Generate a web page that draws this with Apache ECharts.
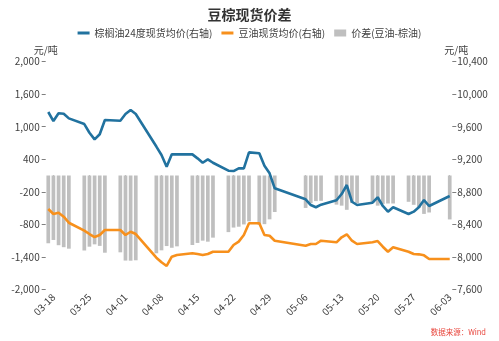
<!DOCTYPE html>
<html><head><meta charset="utf-8">
<script src="https://cdn.jsdelivr.net/npm/echarts@6/dist/echarts.min.js"></script>
<style>html,body{margin:0;padding:0;background:#fff}#c{width:499px;height:341px}</style>
</head><body><div id="c"></div>
<script>
// Calendar range of the category axis (2025)
const startDay = '2025-03-17';
const endDay = '2025-06-03';
// Trading days with data
const dates = ['03-17','03-18','03-19','03-20','03-21',
  '03-24','03-25','03-26','03-27','03-28',
  '03-31','04-01','04-02','04-03',
  '04-07','04-08','04-09','04-10','04-11',
  '04-14','04-15','04-16','04-17','04-18',
  '04-21','04-22','04-23','04-24','04-25',
  '04-27','04-28','04-29','04-30',
  '05-06','05-07','05-08','05-09',
  '05-12','05-13','05-14','05-15','05-16',
  '05-19','05-20','05-21','05-22','05-23',
  '05-26','05-27','05-28','05-29','05-30',
  '06-03'];
const palmOil = [9781,9670,9765,9760,9703,
  9633,9526,9445,9507,9682,
  9674,9756,9805,9756,
  9356,9252,9108,9260,9260,
  9260,9211,9157,9199,9157,
  9059,9055,9088,9088,9285,
  9273,9120,9027,8842,
  8707,8637,8609,8641,
  8695,8772,8883,8677,8637,
  8665,8732,8625,8555,8609,
  8526,8555,8609,8698,8625,
  8748];
const soyOil = [8588,8526,8542,8493,8419,
  8321,8280,8243,8268,8329,
  8329,8268,8308,8280,
  7989,7932,7887,8001,8022,
  8043,8034,8022,8034,8062,
  8062,8145,8186,8268,8412,
  8412,8268,8259,8198,
  8136,8157,8157,8198,
  8178,8240,8277,8198,8157,
  8178,8194,8124,8062,8117,
  8062,8034,8030,8018,7973,
  7973];
const spread = [-1191,-1133,-1225,-1260,-1286,
  -1318,-1251,-1210,-1237,-1357,
  -1350,-1495,-1497,-1490,
  -1367,-1315,-1240,-1270,-1245,
  -1221,-1185,-1145,-1163,-1092,
  -995,-915,-900,-860,-805,
  -865,-855,-770,-642,
  -570,-485,-450,-445,
  -512,-530,-603,-485,-485,
  -485,-530,-500,-492,-492,
  -462,-515,-570,-675,-650,
  -772];
const xTickLabels = ['03-18','03-25','04-01','04-08','04-15','04-22','04-29','05-06','05-13','05-20','05-27','06-03'];
const leftTickLabels = ['-2,000','-1,400','-800','-200','400','1,000','1,600','2,000'];
const rightTickLabels = ['7,600','8,000','8,400','8,800','9,200','9,600','10,000','10,400'];

// build calendar-day categories
const days = [];
for (let t = new Date(startDay + 'T00:00:00Z'); t <= new Date(endDay + 'T00:00:00Z'); t = new Date(t.getTime() + 86400000)) {
  const m = String(t.getUTCMonth() + 1).padStart(2, '0');
  const d = String(t.getUTCDate()).padStart(2, '0');
  days.push(m + '-' + d);
}
function onDays(values) {
  const map = {};
  dates.forEach((d, i) => { map[d] = values[i]; });
  return days.map(d => (d in map ? map[d] : null));
}

const FONT = "'Noto Sans CJK SC', 'Noto Sans', sans-serif";
const leftStep = 4000 / 7;
const lineIcon = 'path://M0,0H12V3H0Z';
const chart = echarts.init(document.getElementById('c'), null, {renderer: 'canvas'});
chart.setOption({
  animation: false,
  textStyle: {fontFamily: FONT},
  title: {
    text: '豆棕现货价差', left: 'center', top: 3,
    textStyle: {fontSize: 14, fontWeight: 'bold', color: '#333', fontFamily: FONT}
  },
  legend: {
    top: 23, left: 'center', itemWidth: 12, itemHeight: 7, itemGap: 9,
    symbolKeepAspect: true,
    textStyle: {fontSize: 10, color: '#404040', fontFamily: FONT},
    data: [
      {name: '棕榈油24度现货均价(右轴)', icon: lineIcon},
      {name: '豆油现货均价(右轴)', icon: lineIcon},
      {name: '价差(豆油-棕油)', icon: 'rect'}
    ]
  },
  grid: {left: 45.7, right: 46.7, top: 61.7, bottom: 51.7, containLabel: false, outerBoundsMode: 'none'},
  xAxis: {
    type: 'category', data: days, boundaryGap: true,
    axisLine: {show: false},
    axisTick: {show: true, alignWithLabel: true, length: 4, lineStyle: {color: '#7f7f7f'},
      interval: (i, v) => xTickLabels.includes(v)},
    axisLabel: {rotate: 45, fontSize: 10, color: '#404040', margin: 6, fontFamily: FONT,
      interval: (i, v) => xTickLabels.includes(v)},
    splitLine: {show: false}
  },
  yAxis: [{
    type: 'value', min: -2000, max: 2000, interval: leftStep,
    name: '元/吨', nameLocation: 'end', nameGap: 6,
    nameTextStyle: {fontSize: 10, color: '#404040', fontFamily: FONT},
    axisLine: {show: false},
    axisTick: {show: true, length: 4, lineStyle: {color: '#7f7f7f'}},
    axisLabel: {fontSize: 10, color: '#404040', margin: 6, fontFamily: FONT,
      formatter: v => leftTickLabels[Math.round((v + 2000) / leftStep)] || ''},
    splitLine: {show: false}
  }, {
    type: 'value', min: 7600, max: 10400, interval: 400, position: 'right',
    name: '元/吨', nameLocation: 'end', nameGap: 6,
    nameTextStyle: {fontSize: 10, color: '#404040', fontFamily: FONT, padding: [0, 0, 0, 8]},
    axisLine: {show: false},
    axisTick: {show: true, length: 4, lineStyle: {color: '#7f7f7f'}},
    axisLabel: {fontSize: 10, color: '#404040', margin: 5, fontFamily: FONT,
      formatter: v => rightTickLabels[Math.round((v - 7600) / 400)] || ''},
    splitLine: {show: false}
  }],
  series: [{
    name: '棕榈油24度现货均价(右轴)', type: 'line', yAxisIndex: 1,
    data: onDays(palmOil), connectNulls: true, symbol: 'none',
    lineStyle: {width: 2.6, color: '#21729f'}, itemStyle: {color: '#21729f'}, z: 3
  }, {
    name: '豆油现货均价(右轴)', type: 'line', yAxisIndex: 1,
    data: onDays(soyOil), connectNulls: true, symbol: 'none',
    lineStyle: {width: 2.6, color: '#f7901c'}, itemStyle: {color: '#f7901c'}, z: 3
  }, {
    name: '价差(豆油-棕油)', type: 'bar', yAxisIndex: 0,
    data: onDays(spread), barWidth: '72%',
    itemStyle: {color: '#bfbfbf'}, z: 2
  }],
  graphic: [{
    type: 'text', right: 13, top: 328,
    style: {text: '数据来源：Wind', fill: '#e8453c', fontSize: 7.5, fontFamily: FONT}
  }]
});
</script></body></html>
